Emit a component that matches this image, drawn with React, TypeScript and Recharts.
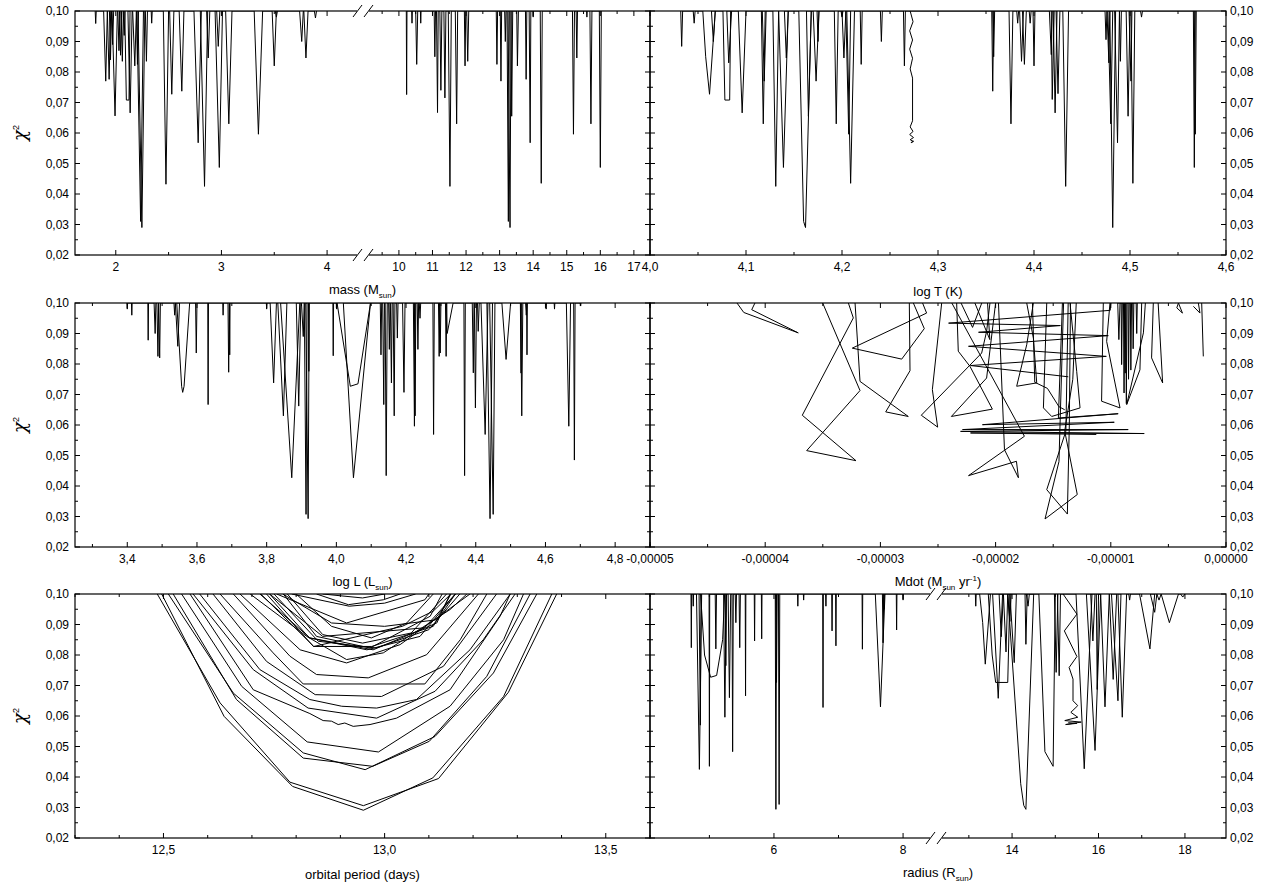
import React from 'react'
import { Line, LineChart, XAxis, YAxis } from 'recharts'

type Pt = { x: number; y: number }

const FONT = '"Liberation Sans", Arial, Helvetica, sans-serif'

// chi^2 axis, same for all six panels
const yDomain: [number, number] = [0.02, 0.1]
const yTicks = [0.02, 0.025, 0.03, 0.035, 0.04, 0.045, 0.05, 0.055, 0.06, 0.065, 0.07, 0.075, 0.08, 0.085, 0.09, 0.095, 0.1]

// x tick values (minor ones get no label)
const massTicksLow = [2, 2.5, 3, 3.5, 4]
const massTicksHigh = [9.5, 10, 10.5, 11, 11.5, 12, 12.5, 13, 13.5, 14, 14.5, 15, 15.5, 16, 16.5, 17]
const logTTicks = [4, 4.05, 4.1, 4.15, 4.2, 4.25, 4.3, 4.35, 4.4, 4.45, 4.5, 4.55, 4.6]
const logLTicks = [3.3, 3.4, 3.5, 3.6, 3.7, 3.8, 3.9, 4, 4.1, 4.2, 4.3, 4.4, 4.5, 4.6, 4.7, 4.8, 4.9]
const mdotTicks = [-0.00005, -0.000045, -0.00004, -0.000035, -0.00003, -0.000025, -0.00002, -0.000015, -0.00001, -0.000005, 0]
const periodTicks = [12.3, 12.4, 12.5, 12.6, 12.7, 12.8, 12.9, 13, 13.1, 13.2, 13.3, 13.4, 13.5, 13.6]
const radiusTicksLow = [5, 6, 7, 8]
const radiusTicksHigh = [13, 14, 15, 16, 17, 18]

// dips: [x where it leaves 0.10, (x, chi2) ..., x where it returns to 0.10]
const massLowDips = [
  [1.805, 1.81, 0.0959, 1.815], [1.885, 1.905, 0.077, 1.92], [1.92, 1.937, 0.0776, 1.952],
  [1.94, 1.95, 0.084, 1.96], [1.96, 1.97, 0.089, 1.98], [1.965, 1.993, 0.0656, 2.015],
  [2.02, 2.03, 0.087, 2.04], [2.035, 2.045, 0.0855, 2.055], [2.05, 2.062, 0.0835, 2.072],
  [2.07, 2.08, 0.092, 2.088], [2.085, 2.1, 0.0708, 2.125, 0.0708, 2.135], [2.115, 2.136, 0.0666, 2.155],
  [2.16, 2.18, 0.082, 2.195], [2.195, 2.205, 0.0825, 2.215], [2.2, 2.235, 0.031, 2.262],
  [2.21, 2.247, 0.029, 2.275], [2.28, 2.29, 0.0835, 2.3], [2.335, 2.34, 0.096, 2.345],
  [2.45, 2.475, 0.0432, 2.5], [2.51, 2.53, 0.0727, 2.55], [2.6, 2.625, 0.0737, 2.645],
  [2.74, 2.78, 0.0568, 2.81], [2.8, 2.84, 0.0425, 2.87], [2.86, 2.875, 0.0846, 2.89],
  [2.955, 2.97, 0.0884, 2.985], [2.94, 2.98, 0.0487, 3.01], [3.04, 3.07, 0.063, 3.1],
  [3.31, 3.35, 0.0596, 3.39], [3.48, 3.5, 0.082, 3.52], [3.51, 3.52, 0.098, 3.53],
  [3.74, 3.76, 0.09, 3.775], [3.78, 3.8, 0.0846, 3.82], [3.88, 3.89, 0.0977, 3.9],
]
const massHighDips = [
  [10.22, 10.23, 0.0726, 10.24], [10.38, 10.39, 0.096, 10.4], [10.5, 10.53, 0.0825, 10.56],
  [10.64, 10.65, 0.096, 10.66], [11.05, 11.07, 0.085, 11.09], [11.12, 11.15, 0.0667, 11.17],
  [11.22, 11.25, 0.074, 11.28], [11.34, 11.37, 0.0715, 11.4], [11.47, 11.52, 0.0425, 11.56],
  [11.68, 11.72, 0.063, 11.75], [11.95, 11.97, 0.082, 11.99], [12.02, 12.05, 0.0835, 12.08],
  [12.9, 12.92, 0.0825, 12.94], [13.02, 13.04, 0.077, 13.06], [13.15, 13.17, 0.09, 13.19],
  [13.22, 13.26, 0.031, 13.29], [13.25, 13.31, 0.029, 13.34], [13.34, 13.36, 0.0655, 13.39],
  [13.51, 13.53, 0.082, 13.56], [13.77, 13.79, 0.0776, 13.81], [13.88, 13.91, 0.0568, 13.93],
  [13.99, 14.0, 0.098, 14.01], [14.21, 14.24, 0.0435, 14.27], [15.17, 15.2, 0.0596, 15.23],
  [15.28, 15.3, 0.0846, 15.32], [15.59, 15.6, 0.098, 15.61], [15.69, 15.72, 0.063, 15.75],
  [15.97, 16.0, 0.0487, 16.03],
]
const logTDips = [
  [4.032, 4.033, 0.0884, 4.034], [4.045, 4.046, 0.096, 4.047], [4.055, 4.058, 0.085, 4.062, 0.0727, 4.068],
  [4.064, 4.066, 0.09, 4.068], [4.076, 4.078, 0.0708, 4.083, 0.0708, 4.084], [4.08, 4.082, 0.083, 4.085],
  [4.092, 4.096, 0.0666, 4.1], [4.116, 4.118, 0.063, 4.12], [4.117, 4.119, 0.077, 4.121],
  [4.128, 4.131, 0.0425, 4.134], [4.134, 4.139, 0.0487, 4.144], [4.14, 4.142, 0.0846, 4.144],
  [4.155, 4.16, 0.031, 4.162, 0.029, 4.168], [4.163, 4.165, 0.0655, 4.168], [4.17, 4.173, 0.077, 4.176],
  [4.174, 4.175, 0.09, 4.176], [4.192, 4.194, 0.063, 4.196], [4.199, 4.2, 0.098, 4.201],
  [4.2, 4.202, 0.0846, 4.204], [4.204, 4.207, 0.0596, 4.209], [4.205, 4.209, 0.0435, 4.213],
  [4.219, 4.22, 0.0825, 4.221], [4.24, 4.241, 0.09, 4.242], [4.264, 4.265, 0.082, 4.266],
  [4.356, 4.357, 0.0737, 4.358], [4.357, 4.358, 0.085, 4.359], [4.374, 4.376, 0.063, 4.378],
  [4.382, 4.383, 0.096, 4.384], [4.385, 4.387, 0.0835, 4.389], [4.388, 4.39, 0.0825, 4.392],
  [4.395, 4.396, 0.096, 4.397], [4.399, 4.4, 0.082, 4.401], [4.416, 4.418, 0.0857, 4.419],
  [4.418, 4.419, 0.071, 4.421], [4.42, 4.422, 0.0666, 4.424], [4.423, 4.425, 0.0729, 4.427],
  [4.43, 4.433, 0.0425, 4.436], [4.474, 4.475, 0.0906, 4.476], [4.476, 4.478, 0.083, 4.479],
  [4.477, 4.48, 0.063, 4.482], [4.479, 4.482, 0.029, 4.485], [4.484, 4.487, 0.0568, 4.489],
  [4.489, 4.49, 0.0835, 4.491], [4.496, 4.498, 0.0655, 4.5], [4.499, 4.501, 0.077, 4.502],
  [4.501, 4.503, 0.0435, 4.505], [4.511, 4.512, 0.098, 4.513], [4.566, 4.567, 0.0487, 4.568],
  [4.567, 4.568, 0.0596, 4.569],
]
const logTZigzag = [
  [4.271, 0.1], [4.274, 0.0965], [4.2705, 0.0935], [4.2735, 0.0905], [4.2705, 0.0875], [4.2735, 0.0845],
  [4.271, 0.081], [4.2735, 0.078], [4.2735, 0.064], [4.271, 0.062], [4.274, 0.0605], [4.2705, 0.0595],
  [4.2745, 0.0585], [4.271, 0.0578], [4.2745, 0.0572], [4.272, 0.0568], [4.274, 0.0575],
]
const logLDips = [
  [3.399, 3.4, 0.098, 3.401], [3.412, 3.413, 0.096, 3.414], [3.459, 3.46, 0.0878, 3.461],
  [3.477, 3.48, 0.09, 3.482], [3.485, 3.488, 0.0825, 3.49], [3.49, 3.493, 0.082, 3.495],
  [3.534, 3.536, 0.096, 3.538], [3.538, 3.545, 0.0858, 3.55],
  [3.542, 3.556, 0.0727, 3.559, 0.0707, 3.563, 0.0727, 3.579], [3.596, 3.598, 0.0836, 3.6],
  [3.631, 3.632, 0.0667, 3.633], [3.674, 3.675, 0.096, 3.676], [3.689, 3.691, 0.0773, 3.693],
  [3.693, 3.694, 0.083, 3.695], [3.799, 3.8, 0.098, 3.801], [3.81, 3.82, 0.0738, 3.828],
  [3.832, 3.848, 0.063, 3.858], [3.84, 3.872, 0.0427, 3.895], [3.885, 3.892, 0.0662, 3.898],
  [3.9, 3.905, 0.089, 3.908], [3.908, 3.913, 0.0307, 3.916], [3.912, 3.919, 0.0293, 3.922],
  [3.92, 3.921, 0.0776, 3.922], [3.99, 3.991, 0.0827, 3.992], [4.0, 4.001, 0.098, 4.002],
  [4.002, 4.04, 0.0727, 4.062, 0.0735, 4.098], [4.02, 4.049, 0.0427, 4.098], [4.126, 4.128, 0.083, 4.13],
  [4.133, 4.136, 0.0667, 4.138], [4.14, 4.143, 0.0434, 4.146], [4.15, 4.152, 0.0848, 4.154],
  [4.155, 4.158, 0.0738, 4.16], [4.163, 4.166, 0.063, 4.168], [4.173, 4.175, 0.0885, 4.177],
  [4.19, 4.194, 0.0707, 4.197], [4.221, 4.224, 0.0596, 4.226], [4.224, 4.226, 0.063, 4.228],
  [4.232, 4.234, 0.0848, 4.236], [4.238, 4.24, 0.095, 4.242], [4.277, 4.279, 0.0569, 4.281],
  [4.293, 4.295, 0.0825, 4.297], [4.296, 4.298, 0.0836, 4.3], [4.313, 4.315, 0.0825, 4.317],
  [4.316, 4.318, 0.09, 4.335], [4.366, 4.368, 0.0434, 4.37], [4.39, 4.393, 0.0771, 4.395],
  [4.396, 4.399, 0.0656, 4.402], [4.405, 4.407, 0.0907, 4.41], [4.415, 4.427, 0.0569, 4.435],
  [4.432, 4.441, 0.0293, 4.448], [4.44, 4.45, 0.0307, 4.455], [4.475, 4.487, 0.0815, 4.5],
  [4.528, 4.53, 0.077, 4.531], [4.529, 4.532, 0.063, 4.535], [4.543, 4.545, 0.096, 4.547],
  [4.546, 4.547, 0.083, 4.548], [4.601, 4.602, 0.098, 4.603], [4.625, 4.626, 0.098, 4.627],
  [4.66, 4.667, 0.0596, 4.672], [4.681, 4.683, 0.0485, 4.685], [4.7, 4.701, 0.099, 4.702],
]
// Mdot tracks, x in units of 1e-5 Msun/yr
const mdotTracks = [
  [[-4.245, 0.1], [-4.186, 0.0969], [-3.713, 0.0902], [-4.117, 0.0978], [-4.089, 0.1]],
  [[-3.501, 0.1], [-3.177, 0.0713], [-3.64, 0.0516], [-3.212, 0.0483], [-3.678, 0.0632], [-3.235, 0.0951], [-3.278, 0.1]],
  [[-3.22, 0.1], [-3.177, 0.0743], [-2.758, 0.0628], [-2.954, 0.0643], [-2.743, 0.0778], [-2.749, 0.1]],
  [[-2.634, 0.1], [-2.599, 0.0967], [-3.244, 0.0852], [-2.815, 0.0816], [-2.619, 0.0916], [-2.714, 0.1]],
  [[-2.468, 0.1], [-2.549, 0.0716], [-2.503, 0.0593], [-2.645, 0.0632], [-2.121, 0.0836], [-2.078, 0.0907], [-2.049, 0.1]],
  [[-2.338, 0.1], [-2.324, 0.0842], [-2.222, 0.0792], [-2.028, 0.0652], [-2.384, 0.0628], [-2.078, 0.0754], [-2.0, 0.1]],
  [[-1.0, 0.1], [-1.005, 0.0976], [-2.408, 0.0934], [-1.438, 0.0926], [-2.148, 0.0904], [-1.022, 0.0893],
    [-2.235, 0.0858], [-1.039, 0.0825], [-2.218, 0.0795], [-1.369, 0.0758]],
  [[-1.42, 0.1], [-1.455, 0.0623], [-0.936, 0.0637], [-2.114, 0.0601], [-0.97, 0.0609], [-2.287, 0.0585],
    [-0.849, 0.0585], [-2.304, 0.0579], [-0.71, 0.0572], [-2.218, 0.0574], [-1.126, 0.0569]],
  [[-2.38, 0.1], [-1.75, 0.0563], [-2.235, 0.0434], [-1.819, 0.0481], [-1.802, 0.0427], [-1.923, 0.0519], [-1.975, 0.1]],
  [[-1.37, 0.1], [-1.39, 0.058], [-1.556, 0.0388], [-1.377, 0.0308], [-1.36, 0.06], [-1.35, 0.1]],
  [[-1.3, 0.1], [-1.33, 0.075], [-1.4, 0.058], [-1.291, 0.0372], [-1.571, 0.0292], [-1.45, 0.048], [-1.41, 0.1]],
  [[-1.73, 0.1], [-1.672, 0.0885], [-1.643, 0.0738], [-1.817, 0.0727], [-1.73, 0.0863], [-1.672, 0.1]],
  [[-1.556, 0.1], [-1.585, 0.0656], [-1.513, 0.0628], [-1.267, 0.0656], [-1.296, 0.0776], [-1.354, 0.1]],
  [[-1.065, 0.1], [-1.08, 0.0678], [-0.92, 0.0656], [-1.036, 0.0874], [-1.007, 0.1]],
  [[-0.732, 0.1], [-0.747, 0.0781], [-0.862, 0.0667], [-0.717, 0.0902], [-0.7, 0.1]],
  [[-0.631, 0.1], [-0.646, 0.082], [-0.55, 0.0738], [-0.589, 0.1]],
  [[-0.413, 0.1], [-0.427, 0.0984], [-0.378, 0.0967], [-0.413, 0.1]],
  [[-0.283, 0.0989], [-0.226, 0.0967], [-0.24, 0.1]],
  [[-0.211, 0.1], [-0.197, 0.0825]],
  [[-2.3, 0.1], [-2.2, 0.092], [-2.12, 0.1]],
  [[-2.18, 0.1], [-2.05, 0.088], [-2.07, 0.1]],
  [[-1.68, 0.1], [-1.66, 0.074], [-1.55, 0.072], [-1.45, 0.066], [-1.4, 0.065]],
]
const mdotSpikes = [
  [-0.91, -0.906, 0.0798, -0.9], [-0.89, -0.885, 0.0705, -0.88], [-0.87, -0.865, 0.067, -0.86],
  [-0.85, -0.846, 0.075, -0.84], [-0.83, -0.826, 0.078, -0.82], [-0.81, -0.806, 0.085, -0.8],
  [-0.88, -0.875, 0.077, -0.87], [-0.94, -0.93, 0.088, -0.92], [-0.78, -0.775, 0.09, -0.77],
]
const periodTracks = [
  [[12.486, 0.1], [12.628, 0.0643], [12.786, 0.0383], [12.952, 0.0306], [13.122, 0.0395], [13.28, 0.0678], [13.389, 0.1]],
  [[12.496, 0.1], [12.637, 0.0599], [12.792, 0.0369], [12.952, 0.0291], [13.109, 0.0397], [13.269, 0.0664], [13.378, 0.1]],
  [[12.511, 0.1], [12.658, 0.0675], [12.816, 0.0479], [12.956, 0.0424], [13.114, 0.0533], [13.246, 0.0741], [13.344, 0.1]],
  [[12.522, 0.1], [12.665, 0.0654], [12.816, 0.0462], [12.973, 0.0435], [13.101, 0.0517], [13.231, 0.073], [13.329, 0.1]],
  [[12.541, 0.1], [12.677, 0.0697], [12.825, 0.0515], [12.986, 0.0482], [13.148, 0.0632], [13.269, 0.085], [13.314, 0.1]],
  [[12.56, 0.1], [12.703, 0.0686], [12.831, 0.0608], [12.861, 0.0585], [12.88, 0.0583], [12.895, 0.0572], [12.91, 0.0577],
    [12.929, 0.0566], [12.967, 0.0572], [13.027, 0.0593], [13.148, 0.0686], [13.261, 0.0927], [13.284, 0.1]],
  [[12.567, 0.1], [12.703, 0.0752], [12.827, 0.0626], [12.982, 0.0593], [13.114, 0.0681], [13.223, 0.085], [13.295, 0.1]],
  [[12.582, 0.1], [12.718, 0.0752], [12.831, 0.0654], [12.903, 0.0632], [12.982, 0.0626], [13.072, 0.0654], [13.193, 0.0817], [13.284, 0.1]],
  [[12.612, 0.1], [12.733, 0.0779], [12.843, 0.067], [12.993, 0.0664], [13.133, 0.0763], [13.253, 0.1]],
  [[12.628, 0.1], [12.748, 0.0807], [12.816, 0.0705], [13.091, 0.0705], [13.171, 0.085], [13.231, 0.1]],
  [[12.658, 0.1], [12.786, 0.0796], [12.846, 0.0736], [12.963, 0.0725], [13.095, 0.0801], [13.212, 0.1]],
  [[12.673, 0.1], [12.809, 0.0817], [12.914, 0.0774], [13.035, 0.0834], [13.193, 0.1]],
  [[12.696, 0.1], [12.824, 0.0861], [12.914, 0.0785], [12.997, 0.0807], [13.148, 0.0949], [13.186, 0.1]],
  [[12.718, 0.1], [12.831, 0.0856], [12.974, 0.0817], [13.118, 0.0905], [13.148, 0.1]],
  [[12.733, 0.1], [12.839, 0.0828], [12.971, 0.0828], [13.11, 0.0894], [13.15, 0.1]],
  [[12.756, 0.1], [12.914, 0.0905], [13.091, 0.0981], [13.1, 0.1]],
  [[12.771, 0.1], [12.846, 0.0861], [12.967, 0.0823], [13.103, 0.0927], [13.13, 0.1]],
  [[12.8, 0.1], [12.88, 0.0894], [12.97, 0.0856], [13.05, 0.0905], [13.11, 0.1]],
  [[12.846, 0.1], [12.918, 0.0965], [12.997, 0.0981], [13.035, 0.1]],
  [[12.86, 0.1], [12.95, 0.0987], [13.0, 0.1]],
  [[12.72, 0.1], [12.84, 0.0828], [13.04, 0.0894], [13.11, 0.0944], [13.15, 0.1]],
  [[12.74, 0.1], [12.83, 0.0856], [12.96, 0.0817], [13.08, 0.0861], [13.16, 0.1]],
  [[12.75, 0.1], [12.85, 0.0845], [12.98, 0.0823], [13.1, 0.0883], [13.17, 0.1]],
  [[12.78, 0.1], [12.86, 0.0867], [12.95, 0.0839], [13.06, 0.0872], [13.14, 0.1]],
  [[12.77, 0.1], [12.88, 0.0905], [13.0, 0.0894], [13.12, 0.0916], [13.16, 0.1]],
  [[12.79, 0.1], [12.92, 0.096], [13.0, 0.097], [13.07, 0.1]],
  [[12.74, 0.1], [12.86, 0.0861], [13.09, 0.0889], [13.16, 0.1]],
]
const radiusLowDips = [
  [4.715, 4.72, 0.0824, 4.725], [4.745, 4.75, 0.096, 4.755], [4.8, 4.845, 0.0425, 4.88],
  [4.84, 4.86, 0.057, 4.87], [4.863, 4.925, 0.08, 5.019, 0.0727, 5.112, 0.0733, 5.205, 0.085, 5.236],
  [4.995, 5.0, 0.0435, 5.005], [5.09, 5.1, 0.082, 5.11], [5.22, 5.24, 0.0596, 5.26],
  [5.245, 5.255, 0.0765, 5.265], [5.29, 5.31, 0.066, 5.33], [5.35, 5.36, 0.0483, 5.37],
  [5.4, 5.41, 0.0906, 5.42], [5.46, 5.47, 0.0824, 5.48], [5.555, 5.56, 0.0666, 5.565],
  [5.695, 5.7, 0.0846, 5.705], [5.805, 5.81, 0.0853, 5.815], [6.02, 6.03, 0.0294, 6.04],
  [6.025, 6.04, 0.071, 6.05], [6.07, 6.08, 0.031, 6.09], [6.365, 6.37, 0.096, 6.375],
  [6.455, 6.46, 0.098, 6.465], [6.755, 6.76, 0.0628, 6.765], [6.8, 6.805, 0.096, 6.81],
  [6.895, 6.9, 0.0879, 6.905], [6.955, 6.96, 0.083, 6.965], [7.365, 7.37, 0.0819, 7.375],
  [7.57, 7.65, 0.063, 7.72], [7.68, 7.69, 0.084, 7.7], [7.7, 7.705, 0.095, 7.71],
  [7.895, 7.9, 0.0882, 7.905], [7.995, 8.0, 0.098, 8.005],
]
const radiusHighDips = [
  [13.15, 13.16, 0.096, 13.17], [13.25, 13.32, 0.0906, 13.38, 0.077, 13.5],
  [13.45, 13.54, 0.08, 13.62, 0.071, 13.9, 0.071, 13.95], [13.55, 13.68, 0.0658, 13.78],
  [13.7, 13.75, 0.086, 13.8], [13.8, 13.86, 0.081, 13.9], [13.9, 13.95, 0.091, 13.98],
  [13.95, 14.05, 0.0775, 14.1], [13.9, 14.2, 0.0378, 14.27, 0.0307, 14.32, 0.0294, 14.5],
  [14.3, 14.32, 0.0835, 14.35], [14.33, 14.37, 0.096, 14.4], [14.62, 14.76, 0.0483, 14.95, 0.0435, 15.0],
  [14.98, 15.02, 0.0743, 15.06], [15.05, 15.09, 0.0732, 15.12], [15.48, 15.67, 0.0427, 15.85],
  [15.82, 15.87, 0.0846, 15.92], [15.72, 15.92, 0.0487, 16.05], [15.95, 15.97, 0.0687, 16.0],
  [16.05, 16.15, 0.063, 16.25], [16.25, 16.34, 0.072, 16.42], [16.3, 16.45, 0.065, 16.52],
  [16.45, 16.55, 0.0596, 16.65], [16.7, 16.72, 0.098, 16.74], [16.95, 17.19, 0.082, 17.3],
  [17.2, 17.3, 0.094, 17.35], [17.35, 17.4, 0.098, 17.45], [17.45, 17.64, 0.0906, 17.85],
  [17.9, 17.95, 0.099, 18.0],
]
const radiusZigzag = [
  [15.18, 0.1], [15.5, 0.0934], [15.21, 0.0879], [15.5, 0.0795], [15.32, 0.0759], [15.41, 0.0721],
  [15.41, 0.065], [15.52, 0.0634], [15.36, 0.0612], [15.52, 0.0596], [15.22, 0.0585], [15.6, 0.058],
  [15.24, 0.0572], [15.5, 0.0576], [15.3, 0.0578],
]

const dipLine = (dips: number[][], xs = 1): Pt[] => {
  const pts: Pt[] = []
  dips.forEach((d) => {
    pts.push({ x: d[0] * xs, y: 0.1 })
    for (let i = 1; i < d.length - 1; i += 2) pts.push({ x: d[i] * xs, y: d[i + 1] })
    pts.push({ x: d[d.length - 1] * xs, y: 0.1 })
  })
  return pts
}
const track = (p: number[][], xs = 1): Pt[] => p.map(([x, y]) => ({ x: x * xs, y }))

const isMajor = (v: number, step: number) => Math.abs(v / step - Math.round(v / step)) < 1e-6
const comma = (d: number) => (v: number) => v.toFixed(d).replace('.', ',')

// plot frame geometry
const LEFT = 75
const MID = 650
const RIGHT = 1226
const ROWS = [11, 303, 594]
const PH = 244
const MASS_BREAK = 363
const RADIUS_BREAK = 936

const PAD_L = 80
const PAD_R = 60
const PAD_T = 14
const PAD_B = 30

type Side = 'labels' | 'ticks' | 'none'

type PanelProps = {
  left: number
  top: number
  width: number
  domain: [number, number]
  ticks: number[]
  major: number
  fmt: (v: number) => string
  series: Pt[][]
  yLeft: Side
  yRight: Side
}

function Panel(p: PanelProps) {
  const bottom = PAD_T + PH
  const right = PAD_L + p.width
  const txt = { fontSize: 12, fontFamily: FONT, fill: '#000' }

  const xTick = (t: any) => {
    const v = t.payload.value
    const big = isMajor(v, p.major)
    const len = big ? 5 : 3
    return (
      <g>
        <line x1={t.x} x2={t.x} y1={bottom} y2={bottom - len} stroke="#000" />
        <line x1={t.x} x2={t.x} y1={PAD_T} y2={PAD_T + len} stroke="#000" />
        {big && (
          <text x={t.x} y={bottom + 16} textAnchor="middle" {...txt}>
            {p.fmt(v)}
          </text>
        )}
      </g>
    )
  }

  const yTick = (t: any) => {
    const v = t.payload.value
    const big = isMajor(v, 0.01)
    const len = big ? 5 : 3
    const lab = v.toFixed(2).replace('.', ',')
    return (
      <g>
        {p.yLeft !== 'none' && <line x1={PAD_L} x2={PAD_L + len} y1={t.y} y2={t.y} stroke="#000" />}
        {p.yRight !== 'none' && <line x1={right} x2={right - len} y1={t.y} y2={t.y} stroke="#000" />}
        {big && p.yLeft === 'labels' && (
          <text x={PAD_L - 6} y={t.y + 4} textAnchor="end" {...txt}>
            {lab}
          </text>
        )}
        {big && p.yRight === 'labels' && (
          <text x={right + 4} y={t.y + 4} textAnchor="start" {...txt}>
            {lab}
          </text>
        )}
      </g>
    )
  }

  return (
    <div style={{ position: 'absolute', left: p.left - PAD_L, top: p.top - PAD_T }}>
      <LineChart
        width={p.width + PAD_L + PAD_R}
        height={PH + PAD_T + PAD_B}
        margin={{ top: PAD_T, right: PAD_R, bottom: 0, left: 0 }}
      >
        <XAxis
          type="number"
          dataKey="x"
          domain={p.domain}
          ticks={p.ticks}
          interval={0}
          allowDataOverflow
          tick={xTick}
          tickLine={false}
          axisLine={false}
          height={PAD_B}
        />
        <YAxis
          type="number"
          domain={yDomain}
          ticks={yTicks}
          interval={0}
          allowDataOverflow
          tick={yTick}
          tickLine={false}
          axisLine={false}
          width={PAD_L}
        />
        {p.series.map((d, i) => (
          <Line
            key={i}
            data={d}
            dataKey="y"
            type="linear"
            stroke="#000"
            strokeWidth={1}
            dot={false}
            activeDot={false}
            isAnimationActive={false}
          />
        ))}
      </LineChart>
    </div>
  )
}

const Title = ({ x, y, children }: { x: number; y: number; children: React.ReactNode }) => (
  <div
    style={{
      position: 'absolute',
      left: x,
      top: y,
      transform: 'translate(-50%, -50%)',
      whiteSpace: 'nowrap',
      fontFamily: FONT,
      fontSize: 13,
      color: '#000',
    }}
  >
    {children}
  </div>
)

const sub = { fontSize: 8 }

function BreakMark({ x, y }: { x: number; y: number }) {
  return (
    <g>
      <rect x={x - 6} y={y - 2} width={12} height={4} fill="#fff" />
      <line x1={x - 10} y1={y + 6} x2={x - 1} y2={y - 6} stroke="#000" />
      <line x1={x + 1} y1={y + 6} x2={x + 10} y2={y - 6} stroke="#000" />
    </g>
  )
}

export default function App() {
  const wL = MID - LEFT
  const wR = RIGHT - MID
  const e5 = 1e-5
  return (
    <div style={{ position: 'absolute', left: 0, top: 0, width: 1266, height: 888, background: '#fff' }}>
      {/* mass, broken axis */}
      <Panel left={LEFT} top={ROWS[0]} width={MASS_BREAK - LEFT} domain={[1.614, 4.34]} ticks={massTicksLow} major={1}
        fmt={(v) => String(v)} series={[dipLine(massLowDips)]} yLeft="labels" yRight="none" />
      <Panel left={MASS_BREAK} top={ROWS[0]} width={MID - MASS_BREAK} domain={[8.93, 17.48]} ticks={massTicksHigh} major={1}
        fmt={(v) => String(v)} series={[dipLine(massHighDips)]} yLeft="none" yRight="ticks" />
      {/* log T */}
      <Panel left={MID} top={ROWS[0]} width={wR} domain={[4, 4.6]} ticks={logTTicks} major={0.1}
        fmt={comma(1)} series={[dipLine(logTDips), track(logTZigzag)]} yLeft="ticks" yRight="labels" />
      {/* log L */}
      <Panel left={LEFT} top={ROWS[1]} width={wL} domain={[3.25, 4.9]} ticks={logLTicks} major={0.2}
        fmt={comma(1)} series={[dipLine(logLDips)]} yLeft="labels" yRight="ticks" />
      {/* Mdot */}
      <Panel left={MID} top={ROWS[1]} width={wR} domain={[-0.00005, 0]} ticks={mdotTicks} major={0.00001}
        fmt={comma(5)} series={[...mdotTracks.map((t) => track(t, e5)), dipLine(mdotSpikes, e5)]} yLeft="ticks" yRight="labels" />
      {/* orbital period */}
      <Panel left={LEFT} top={ROWS[2]} width={wL} domain={[12.3, 13.6]} ticks={periodTicks} major={0.5}
        fmt={comma(1)} series={periodTracks.map((t) => track(t))} yLeft="labels" yRight="ticks" />
      {/* radius, broken axis */}
      <Panel left={MID} top={ROWS[2]} width={RADIUS_BREAK - MID} domain={[4.08, 8.51]} ticks={radiusTicksLow} major={2}
        fmt={(v) => String(v)} series={[dipLine(radiusLowDips)]} yLeft="ticks" yRight="none" />
      <Panel left={RADIUS_BREAK} top={ROWS[2]} width={RIGHT - RADIUS_BREAK} domain={[12.24, 18.95]} ticks={radiusTicksHigh} major={2}
        fmt={(v) => String(v)} series={[dipLine(radiusHighDips), track(radiusZigzag)]} yLeft="none" yRight="labels" />

      <svg width={1266} height={888} style={{ position: 'absolute', left: 0, top: 0, pointerEvents: 'none' }}>
        {ROWS.map((top) => (
          <g key={top}>
            <rect x={LEFT} y={top} width={wL} height={PH} fill="none" stroke="#000" strokeWidth={1.2} />
            <rect x={MID} y={top} width={wR} height={PH} fill="none" stroke="#000" strokeWidth={1.2} />
          </g>
        ))}
        <BreakMark x={MASS_BREAK} y={ROWS[0]} />
        <BreakMark x={MASS_BREAK} y={ROWS[0] + PH} />
        <BreakMark x={RADIUS_BREAK} y={ROWS[2]} />
        <BreakMark x={RADIUS_BREAK} y={ROWS[2] + PH} />
      </svg>

      <Title x={(LEFT + MID) / 2} y={ROWS[0] + PH + 36}>
        mass (M<sub style={sub}>sun</sub>)
      </Title>
      <Title x={(MID + RIGHT) / 2} y={ROWS[0] + PH + 36}>log T (K)</Title>
      <Title x={(LEFT + MID) / 2} y={ROWS[1] + PH + 36}>
        log L (L<sub style={sub}>sun</sub>)
      </Title>
      <Title x={(MID + RIGHT) / 2} y={ROWS[1] + PH + 36}>
        Mdot (M<sub style={sub}>sun</sub> yr<sup style={sub}>-1</sup>)
      </Title>
      <Title x={(LEFT + MID) / 2} y={ROWS[2] + PH + 36}>orbital period (days)</Title>
      <Title x={(MID + RIGHT) / 2} y={ROWS[2] + PH + 36}>
        radius (R<sub style={sub}>sun</sub>)
      </Title>
      {ROWS.map((top) => (
        <div
          key={top}
          style={{
            position: 'absolute',
            left: 19,
            top: top + PH / 2,
            transform: 'translate(-50%, -50%) rotate(-90deg)',
            fontFamily: '"DejaVu Serif", serif',
            fontStyle: 'italic',
            fontSize: 18,
            whiteSpace: 'nowrap',
          }}
        >
          χ<sup style={{ fontSize: 9, fontStyle: 'normal', fontFamily: FONT }}>2</sup>
        </div>
      ))}
    </div>
  )
}
